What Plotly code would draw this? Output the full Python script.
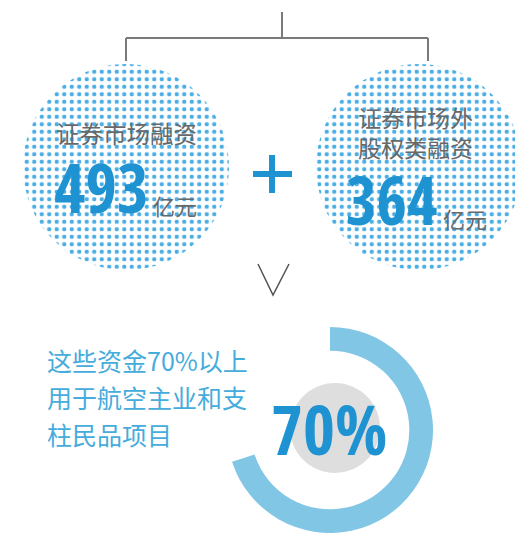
import plotly.graph_objects as go

# values read from the infographic (亿元 / %)
sources = ['证券市场融资', '证券市场外<br>股权类融资']
amounts = [493, 364]
unit = '亿元'
share = [70, 30]
share_label = '70%'
note_lines = ['这些资金70%以上', '用于航空主业和支', '柱民品项目']

# page has an 8px body margin, so the figure is drawn 8px in from the window corner
OFF = 8
W, H = 523 - OFF, 535 - OFF
def px(x):
    return (x - OFF) / W
def py(y):
    return (535 - y) / H

dot_blue = '#4aaee4'
num_blue = '#1f93d2'
ring_blue = '#82c6e6'
txt_gray = '#686868'
cjk = 'Noto Sans CJK SC'
narrow = 'Open Sans Condensed, Roboto Condensed, sans-serif'

fig = go.Figure()

# dotted circles (one full pie each)
circle_domains = [
    dict(x=[px(23), px(229)], y=[py(270), py(64)]),
    dict(x=[px(316), px(522)], y=[py(270), py(64)]),
]
for name, amt, dom in zip(sources, amounts, circle_domains):
    fig.add_trace(go.Pie(
        values=[amt], labels=[name.replace('<br>', '')], domain=dom,
        textinfo='none', sort=False, showlegend=False,
        marker=dict(colors=['white'], line=dict(width=0),
                    pattern=dict(shape='.', size=7.5, solidity=0.27,
                                 fgcolor=dot_blue, bgcolor='white')),
        hovertemplate='%{label}: %{value}亿元<extra></extra>',
    ))

# 70% ring
fig.add_trace(go.Pie(
    values=share, labels=['航空主业和支柱民品项目', '其他'],
    domain=dict(x=[px(227), px(433)], y=[py(533), py(327)]),
    hole=0.77, direction='clockwise', sort=False, rotation=0,
    textinfo='none', showlegend=False,
    marker=dict(colors=[ring_blue, 'rgba(0,0,0,0)'], line=dict(width=0)),
))

shapes = [
    # connector at top
    dict(type='line', x0=282, x1=282, y0=12, y1=38),
    dict(type='line', x0=126, x1=428, y0=38, y1=38),
    dict(type='line', x0=126, x1=126, y0=38, y1=61),
    dict(type='line', x0=428, x1=428, y0=38, y1=61),
]
for s in shapes:
    s.update(xref='x', yref='y', line=dict(color='#7a7a7a', width=2))
shapes += [
    # plus sign
    dict(type='line', xref='x', yref='y', x0=253, x1=292, y0=174, y1=174,
         line=dict(color=num_blue, width=6)),
    dict(type='line', xref='x', yref='y', x0=272, x1=272, y0=155, y1=193,
         line=dict(color=num_blue, width=6)),
    # V arrow
    dict(type='path', xref='x', yref='y', path='M 258 264 L 273 295 L 289 264',
         line=dict(color='#555555', width=1.5)),
    # grey disc in the ring
    dict(type='circle', xref='x', yref='y', x0=290, x1=380, y0=383, y1=473,
         fillcolor='#dedede', line=dict(width=0), layer='below'),
]

ann = []
def add_text(x, y, text, size, color, family=cjk, xanchor='left'):
    ann.append(dict(x=x, y=y, xref='x', yref='y', text=text, showarrow=False,
                    xanchor=xanchor, yanchor='middle', align='left',
                    font=dict(size=size, color=color, family=family)))

add_text(54, 133, sources[0], 23.5, txt_gray)
add_text(52, 186, '<b>%d</b>' % amounts[0], 68, num_blue, narrow)
add_text(151, 205, unit, 22, txt_gray)

add_text(356, 132, sources[1], 23, txt_gray)
add_text(344, 199, '<b>%d</b>' % amounts[1], 66, num_blue, narrow)
add_text(441, 218, unit, 22, txt_gray)

for i, line in enumerate(note_lines):
    add_text(45, 360 + i * 37, line, 25, '#45acdc')

add_text(329, 428, '<b>%s</b>' % share_label, 69, num_blue, narrow, xanchor='center')

fig.update_layout(
    width=W, height=H, margin=dict(l=0, r=0, t=0, b=0),
    paper_bgcolor='white', plot_bgcolor='white',
    xaxis=dict(range=[OFF, 523], visible=False, fixedrange=True),
    yaxis=dict(range=[535, OFF], visible=False, fixedrange=True),
    shapes=shapes, annotations=ann, showlegend=False,
)

fig.write_html('out.html')
